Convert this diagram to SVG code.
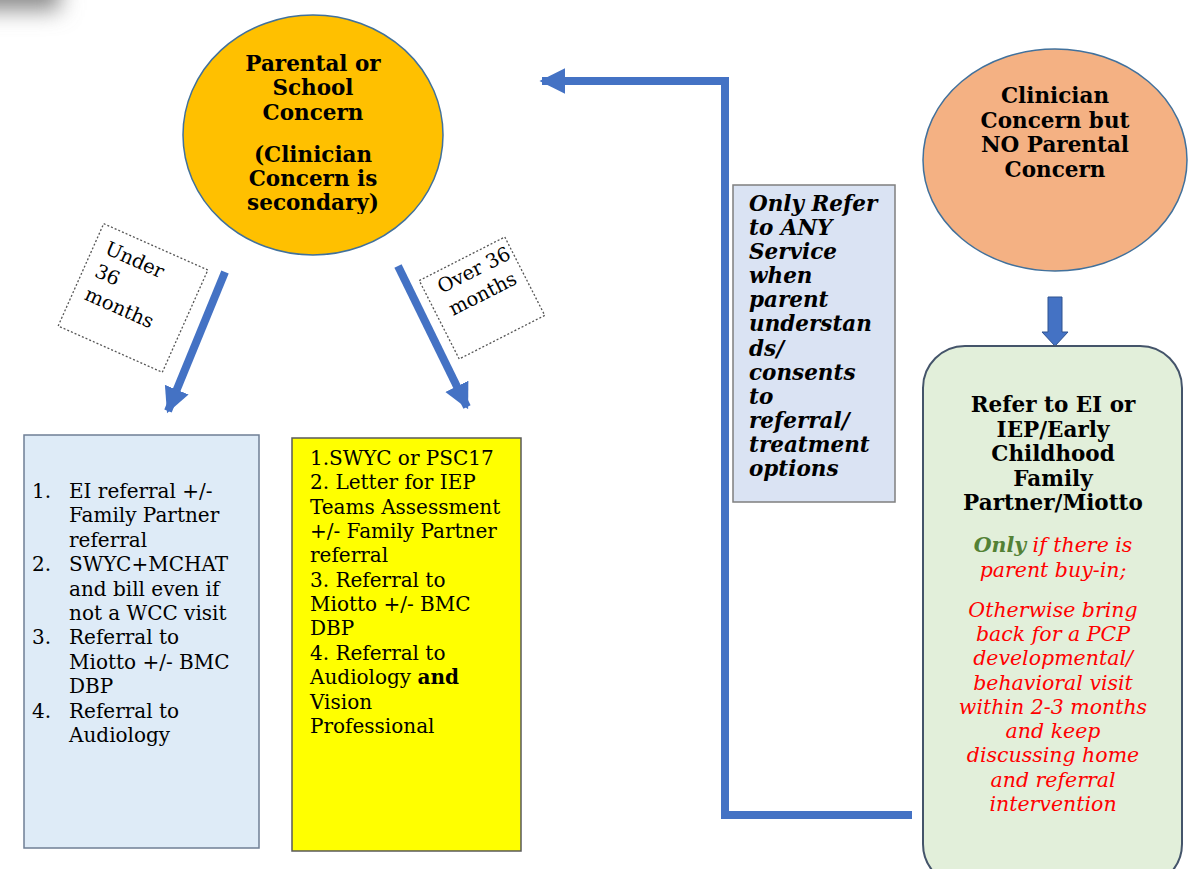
<svg xmlns="http://www.w3.org/2000/svg" width="1201" height="869" viewBox="0 0 1201 869">
<defs>
<filter id="blur" x="-1" y="-1" width="3" height="3"><feGaussianBlur stdDeviation="11"/></filter>
<marker id="ah" viewBox="0 0 10 10" refX="9" refY="5" markerWidth="3.2" markerHeight="3.4" orient="auto" markerUnits="strokeWidth">
<path d="M0,0 L10,5 L0,10 z" fill="#4472C4"/>
</marker>
<clipPath id="clipsec"><rect x="200" y="190" width="230" height="24"/></clipPath>
</defs>
<style>
text{font-family:"DejaVu Serif","Liberation Serif",serif;font-size:20px;fill:#000}
.b{font-weight:bold;font-size:21.5px}
.bi{font-weight:bold;font-style:italic;font-size:21.5px}
.c{text-anchor:middle}
.red{fill:#FF0000;font-style:italic;font-size:20.5px}
.grn{fill:#538135;font-style:italic;font-weight:bold;font-size:20.5px}
.conn{fill:none;stroke:#4472C4;stroke-width:8}
.lbl{fill:#fff;stroke:#555;stroke-width:1.3;stroke-dasharray:2 2}
.tl{font-size:19.5px}
</style>
<rect width="1201" height="869" fill="#fff"/>
<rect x="-40" y="-40" width="100" height="50" fill="#8a8a8a" filter="url(#blur)"/>

<g id="connectors">
<line class="conn" x1="225" y1="272" x2="168" y2="411" marker-end="url(#ah)"/>
<line class="conn" x1="398" y1="266" x2="467" y2="407" marker-end="url(#ah)"/>
<polyline class="conn" points="912,815 725,815 725,81 542,81" marker-end="url(#ah)"/>
<path d="M1048,297 H1062 V332 H1068 L1055,346 L1042,332 H1048 Z" fill="#4472C4" stroke="#2F528F" stroke-width="1"/>
</g>

<g id="parental">
<ellipse cx="313" cy="135" rx="130" ry="120" fill="#FFC000" stroke="#41719C" stroke-width="1.5"/>
<text class="b c" x="313" y="71">Parental or</text>
<text class="b c" x="313" y="95">School</text>
<text class="b c" x="313" y="120">Concern</text>
<text class="b c" x="313" y="162">(Clinician</text>
<text class="b c" x="313" y="186">Concern is</text>
<text class="b c" x="313" y="210" clip-path="url(#clipsec)">secondary)</text>
</g>

<g id="under36" transform="translate(133,298) rotate(24)">
<rect class="lbl" x="-57" y="-56" width="114" height="112"/>
<text class="tl" x="-45" y="-29">Under</text>
<text class="tl" x="-45" y="-4">36</text>
<text class="tl" x="-45" y="21">months</text>
</g>

<g id="over36" transform="translate(482,298) rotate(-27)">
<rect class="lbl" x="-48" y="-44" width="96" height="88"/>
<text class="tl" x="-34" y="-22">Over 36</text>
<text class="tl" x="-34" y="3">months</text>
</g>

<g id="under-box">
<rect x="24" y="435" width="235" height="413" fill="#DEEBF7" stroke="#6F7F95" stroke-width="1.5"/>
<text x="32" y="498">1.</text><text x="69" y="498">EI referral +/-</text>
<text x="69" y="522">Family Partner</text>
<text x="69" y="547">referral</text>
<text x="32" y="571">2.</text><text x="69" y="571">SWYC+MCHAT</text>
<text x="69" y="596">and bill even if</text>
<text x="69" y="620">not a WCC visit</text>
<text x="32" y="644">3.</text><text x="69" y="644">Referral to</text>
<text x="69" y="669">Miotto +/- BMC</text>
<text x="69" y="693">DBP</text>
<text x="32" y="718">4.</text><text x="69" y="718">Referral to</text>
<text x="69" y="742">Audiology</text>
</g>

<g id="over-box">
<rect x="292" y="438" width="229" height="413" fill="#FFFF00" stroke="#595959" stroke-width="1.5"/>
<text x="310" y="465">1.SWYC or PSC17</text>
<text x="310" y="489">2. Letter for IEP</text>
<text x="310" y="514">Teams Assessment</text>
<text x="310" y="538">+/- Family Partner</text>
<text x="310" y="562">referral</text>
<text x="310" y="587">3. Referral to</text>
<text x="310" y="611">Miotto +/- BMC</text>
<text x="310" y="635">DBP</text>
<text x="310" y="660">4. Referral to</text>
<text x="310" y="684">Audiology <tspan font-weight="bold">and</tspan></text>
<text x="310" y="709">Vision</text>
<text x="310" y="733">Professional</text>
</g>

<g id="consent-note">
<rect x="733" y="185" width="162" height="317" fill="#DAE3F3" stroke="#7F7F7F" stroke-width="1.5"/>
<text class="bi" x="749" y="211">Only Refer</text>
<text class="bi" x="749" y="235">to ANY</text>
<text class="bi" x="749" y="259">Service</text>
<text class="bi" x="749" y="283">when</text>
<text class="bi" x="749" y="307">parent</text>
<text class="bi" x="749" y="331">understan</text>
<text class="bi" x="749" y="356">ds/</text>
<text class="bi" x="749" y="380">consents</text>
<text class="bi" x="749" y="404">to</text>
<text class="bi" x="749" y="428">referral/</text>
<text class="bi" x="749" y="452">treatment</text>
<text class="bi" x="749" y="476">options</text>
</g>

<g id="clinician">
<ellipse cx="1055" cy="160" rx="132" ry="111" fill="#F4B183" stroke="#41719C" stroke-width="1.5"/>
<text class="b c" x="1055" y="103">Clinician</text>
<text class="b c" x="1055" y="128">Concern but</text>
<text class="b c" x="1055" y="152">NO Parental</text>
<text class="b c" x="1055" y="177">Concern</text>
</g>

<g id="refer-box">
<rect x="923" y="346" width="259" height="540" rx="42" ry="42" fill="#E2EFDA" stroke="#44546A" stroke-width="2"/>
<text class="b c" x="1053" y="412">Refer to EI or</text>
<text class="b c" x="1053" y="437">IEP/Early</text>
<text class="b c" x="1053" y="461">Childhood</text>
<text class="b c" x="1053" y="486">Family</text>
<text class="b c" x="1053" y="510">Partner/Miotto</text>
<text class="c red" x="1053" y="552"><tspan class="grn">Only</tspan> if there is</text>
<text class="c red" x="1053" y="577">parent buy-in;</text>
<text class="c red" x="1053" y="617">Otherwise bring</text>
<text class="c red" x="1053" y="641">back for a PCP</text>
<text class="c red" x="1053" y="665">developmental/</text>
<text class="c red" x="1053" y="690">behavioral visit</text>
<text class="c red" x="1053" y="714">within 2-3 months</text>
<text class="c red" x="1053" y="738">and keep</text>
<text class="c red" x="1053" y="762">discussing home</text>
<text class="c red" x="1053" y="787">and referral</text>
<text class="c red" x="1053" y="811">intervention</text>
</g>
</svg>
